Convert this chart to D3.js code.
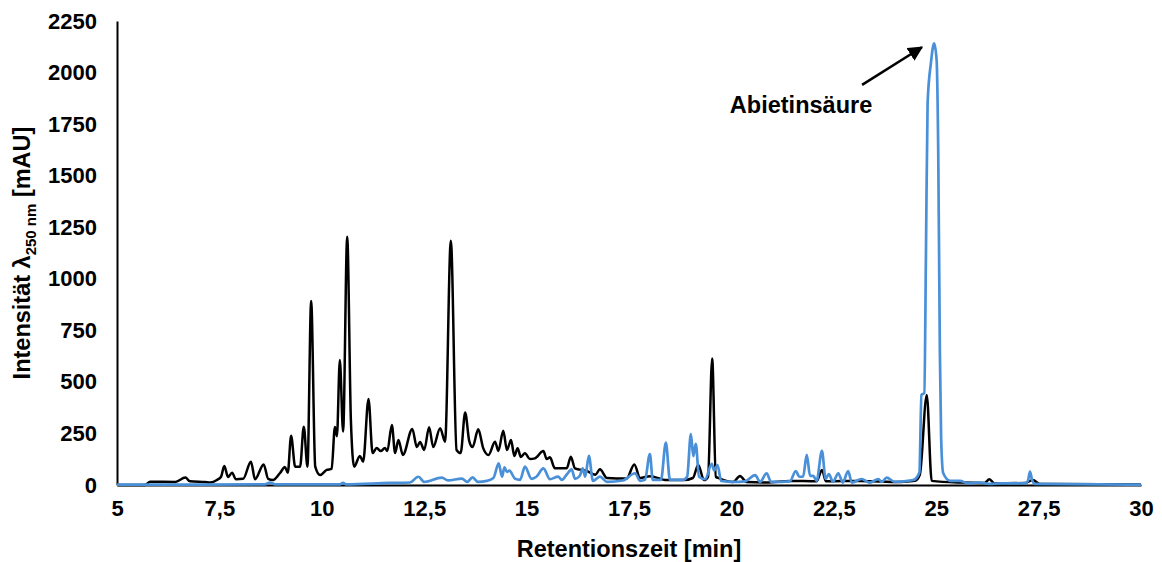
<!DOCTYPE html>
<html>
<head>
<meta charset="utf-8">
<script src="https://cdn.jsdelivr.net/npm/d3@7"></script>
<style>
  body { margin: 0; background: #fff; }
  text { font-family: Arial, "Liberation Sans", sans-serif; font-weight: bold; fill: #000; }
</style>
</head>
<body>
<div class="container"></div>
<script>
// retention time [min] / intensity [mAU]
const blackTime = [5, 5.68, 5.81, 6.42, 6.67, 6.78, 7.15, 7.28, 7.44, 7.54, 7.62, 7.71, 7.81, 7.90, 8.08, 8.27, 8.37, 8.58, 8.69, 8.81, 8.98, 9.10, 9.17, 9.25, 9.35, 9.47, 9.56, 9.65, 9.74, 9.84, 9.96, 10.12, 10.24, 10.32, 10.37, 10.44, 10.52, 10.62, 10.71, 10.79, 10.93, 11.01, 11.14, 11.24, 11.34, 11.44, 11.54, 11.60, 11.71, 11.79, 11.87, 11.98, 12.21, 12.32, 12.40, 12.50, 12.62, 12.72, 12.89, 13.01, 13.15, 13.29, 13.39, 13.50, 13.60, 13.68, 13.82, 13.94, 14.07, 14.23, 14.31, 14.43, 14.52, 14.62, 14.70, 14.78, 14.86, 14.96, 15.08, 15.20, 15.41, 15.49, 15.57, 15.69, 15.98, 16.08, 16.18, 16.47, 16.68, 16.79, 16.96, 17.44, 17.63, 17.77, 18.01, 18.42, 18.83, 19.06, 19.19, 19.33, 19.43, 19.53, 19.62, 19.68, 20.04, 20.21, 20.37, 20.86, 21.43, 22.08, 22.21, 22.31, 23.14, 24.12, 24.48, 24.60, 24.77, 24.89, 25.58, 26.18, 26.30, 26.42, 27.17, 27.36, 27.53, 30];
const blackValue = [0, 0, 16, 15, 36, 18, 14, 12, 24, 40, 92, 39, 60, 28, 30, 113, 28, 100, 30, 24, 58, 87, 60, 239, 89, 89, 283, 89, 892, 89, 48, 73, 78, 281, 237, 606, 259, 1204, 315, 89, 141, 113, 417, 155, 179, 165, 179, 165, 291, 155, 218, 146, 272, 184, 208, 170, 280, 184, 275, 210, 1185, 170, 155, 351, 213, 184, 270, 179, 146, 210, 165, 263, 170, 218, 141, 178, 136, 154, 126, 129, 165, 126, 134, 81, 81, 137, 81, 68, 50, 76, 34, 31, 100, 34, 43, 24, 24, 34, 97, 24, 40, 614, 40, 34, 14, 44, 14, 12, 20, 18, 73, 18, 20, 15, 20, 50, 437, 20, 12, 10, 28, 8, 10, 24, 5, 3];

const blueTime = [5, 7.03, 8.61, 8.74, 8.86, 10.44, 10.52, 10.59, 11.66, 12.15, 12.36, 12.50, 12.93, 13.08, 13.42, 13.55, 13.68, 13.81, 14.03, 14.19, 14.32, 14.40, 14.46, 14.52, 14.58, 14.72, 14.84, 14.96, 15.12, 15.24, 15.41, 15.57, 15.77, 15.86, 15.98, 16.10, 16.18, 16.30, 16.37, 16.43, 16.52, 16.62, 16.79, 16.96, 17.35, 17.65, 17.77, 17.89, 18.01, 18.08, 18.28, 18.40, 18.50, 18.82, 18.92, 19.01, 19.07, 19.13, 19.21, 19.36, 19.52, 19.58, 19.66, 19.75, 20.04, 20.33, 20.58, 20.70, 20.86, 20.97, 21.43, 21.57, 21.66, 21.75, 21.84, 21.92, 22.00, 22.08, 22.21, 22.30, 22.38, 22.48, 22.61, 22.72, 22.85, 22.94, 23.18, 23.38, 23.59, 23.67, 23.79, 23.99, 24.44, 24.59, 24.64, 24.71, 24.75, 24.79, 24.87, 24.95, 25.01, 25.05, 25.09, 25.12, 25.17, 25.34, 25.58, 25.78, 26.07, 26.31, 26.56, 27.17, 27.24, 27.29, 27.34, 27.41, 30];
const blueValue = [2, 2, 3, 12, 3, 3, 10, 3, 10, 12, 40, 15, 36, 22, 31, 15, 37, 15, 20, 34, 105, 40, 86, 63, 70, 30, 25, 89, 30, 40, 81, 28, 41, 25, 51, 76, 30, 45, 81, 40, 141, 20, 41, 15, 22, 57, 20, 25, 150, 25, 25, 205, 25, 25, 40, 247, 140, 199, 40, 28, 102, 70, 97, 20, 15, 18, 48, 15, 57, 15, 18, 68, 40, 40, 146, 44, 44, 20, 165, 30, 53, 15, 57, 12, 68, 12, 29, 12, 29, 15, 36, 15, 24, 60, 437, 446, 1125, 1851, 2045, 2142, 2061, 1610, 640, 234, 58, 20, 20, 8, 12, 5, 8, 8, 20, 65, 25, 5, 2];

const xTicks = [5, 7.5, 10, 12.5, 15, 17.5, 20, 22.5, 25, 27.5, 30];
const yTicks = [0, 250, 500, 750, 1000, 1250, 1500, 1750, 2000, 2250];

const width = 1162, height = 562;
const margin = {top: 21, right: 21, bottom: 77, left: 117};

const svg = d3.select('.container')
    .append('svg')
    .attr('width', width)
    .attr('height', height);

const x = d3.scaleLinear().domain([5, 30]).range([margin.left, width - margin.right]);
const y = d3.scaleLinear().domain([0, 2250]).range([height - margin.bottom, margin.top]);

const fmt = d => String(d).replace('.', ',');

// axes (no tick marks, only labels)
const yAxis = svg.append('g')
    .attr('transform', `translate(${margin.left},0)`)
    .call(d3.axisLeft(y).tickValues(yTicks).tickSize(0).tickPadding(20).tickFormat(fmt));
yAxis.select('.domain').attr('stroke', '#000').attr('stroke-width', 2);
yAxis.selectAll('text').style('font-size', '22px').attr('font-family', null);

const xAxis = svg.append('g')
    .attr('transform', `translate(0,${height - margin.bottom})`)
    .call(d3.axisBottom(x).tickValues(xTicks).tickSize(0).tickPadding(15).tickFormat(fmt));
xAxis.select('.domain').attr('stroke', '#000').attr('stroke-width', 2);
xAxis.selectAll('text').style('font-size', '22px').attr('font-family', null);

// chromatograms
const line = d3.line()
    .x(d => x(d[0]))
    .y(d => y(d[1]))
    .curve(d3.curveMonotoneX);

svg.append('path')
    .datum(d3.zip(blackTime, blackValue))
    .attr('fill', 'none')
    .attr('stroke', '#000')
    .attr('stroke-width', 2.5)
    .attr('stroke-linejoin', 'round')
    .attr('d', line);

svg.append('path')
    .datum(d3.zip(blueTime, blueValue))
    .attr('fill', 'none')
    .attr('stroke', '#4a90d9')
    .attr('stroke-width', 2.7)
    .attr('stroke-linejoin', 'round')
    .attr('d', line);

// axis titles
svg.append('text')
    .attr('x', (margin.left + width - margin.right) / 2)
    .attr('y', 557)
    .attr('text-anchor', 'middle')
    .style('font-size', '23.5px')
    .text('Retentionszeit [min]');

const yTitle = svg.append('text')
    .attr('transform', `translate(30,${(margin.top + height - margin.bottom) / 2}) rotate(-90)`)
    .attr('text-anchor', 'middle')
    .style('font-size', '23.5px');
yTitle.append('tspan').text('Intensität λ');
yTitle.append('tspan').attr('dy', 6).style('font-size', '15px').text('250 nm');
yTitle.append('tspan').attr('dy', -6).text(' [mAU]');

// annotation
svg.append('defs').append('marker')
    .attr('id', 'arrow')
    .attr('viewBox', '0 0 10 10')
    .attr('refX', 9).attr('refY', 5)
    .attr('markerWidth', 6).attr('markerHeight', 6)
    .attr('orient', 'auto')
    .append('path')
    .attr('d', 'M0,0L10,5L0,10z')
    .attr('fill', '#000');

svg.append('line')
    .attr('x1', x(23.19)).attr('y1', y(1940))
    .attr('x2', x(24.65)).attr('y2', y(2123))
    .attr('stroke', '#000')
    .attr('stroke-width', 2.5)
    .attr('marker-end', 'url(#arrow)');

svg.append('text')
    .attr('x', x(21.7))
    .attr('y', y(1804))
    .attr('text-anchor', 'middle')
    .style('font-size', '23.5px')
    .text('Abietinsäure');
</script>
</body>
</html>
